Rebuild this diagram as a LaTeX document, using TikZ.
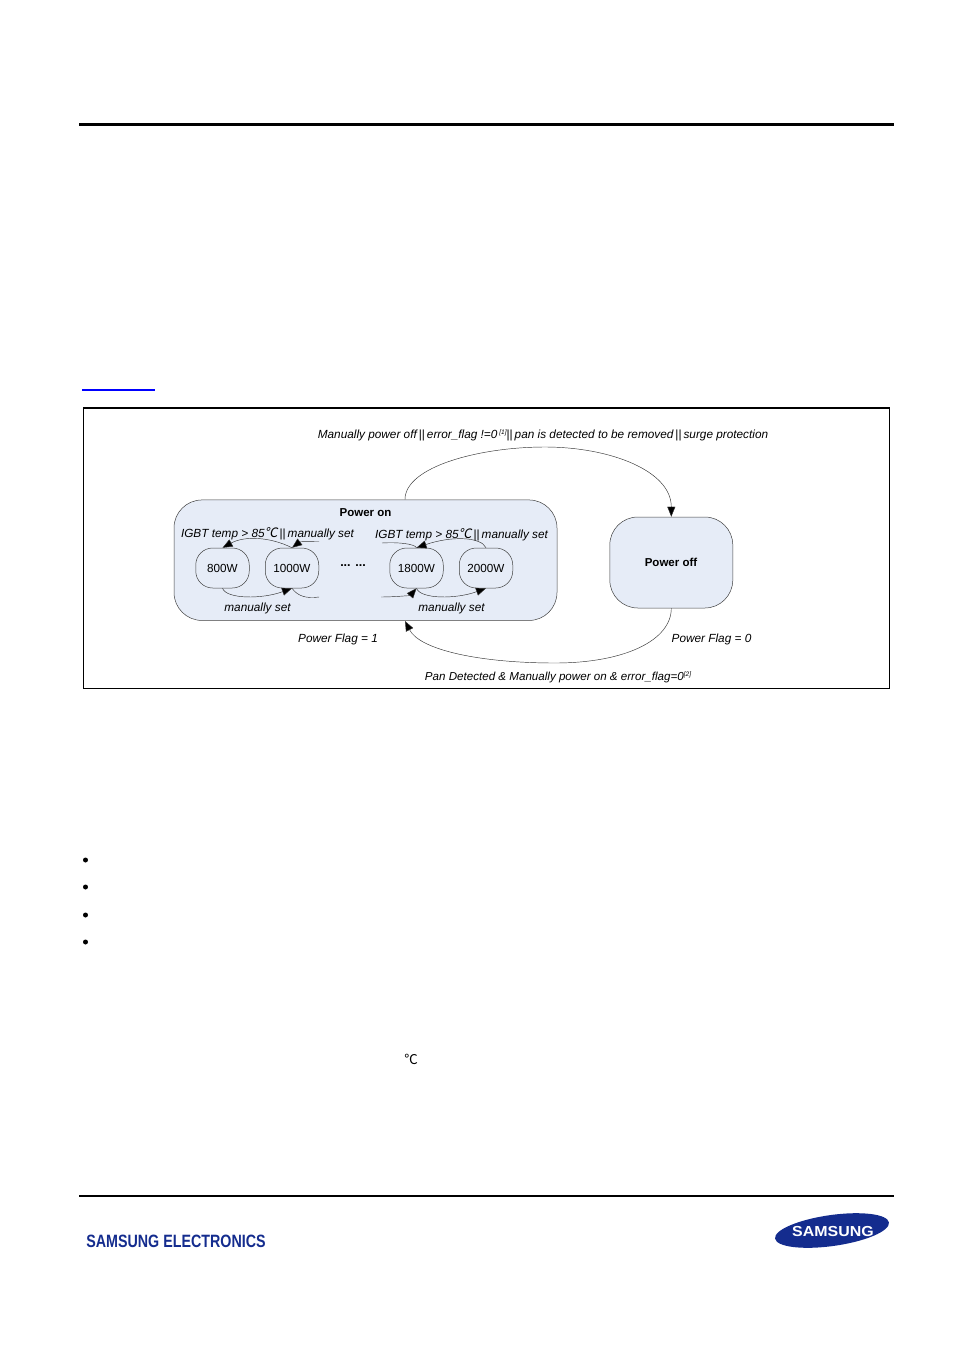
\documentclass[tikz,border=0pt]{standalone}
\usepackage{fontspec}
\usepackage{graphicx}
\setmainfont{Liberation Sans}
\newfontfamily\cjk[FakeSlant=0.2]{Noto Sans CJK SC}
\newfontfamily\cjkup{Noto Sans CJK SC}
\usetikzlibrary{arrows.meta}
\usetikzlibrary{shapes.geometric}
\definecolor{panelblue}{HTML}{E6ECF7}
\definecolor{samsungblue}{HTML}{142C8E}
\definecolor{linkblue}{HTML}{0000FF}
\newcommand{\degc}{{\fontsize{13}{13}\selectfont\cjk\char"2103}}
\newcommand{\refmark}[1]{\raisebox{4pt}{\fontsize{6.5}{7}\selectfont[#1]}}
\tikzset{
  panel/.style={draw=black!75,line width=0.5pt,fill=panelblue,rounded corners=28pt,inner sep=0pt},
  power/.style={draw=black!75,line width=0.5pt,fill=panelblue,rounded corners=17pt,inner sep=0pt,
    minimum width=53.5pt,minimum height=40pt,font=\fontsize{11.7}{13}\selectfont},
  flow/.style={draw=black!80,line width=0.45pt},
  flowtip/.style={flow,-{Triangle[length=10pt,width=8pt,fill=black]}},
  lbl/.style={inner sep=0pt,font=\fontsize{11.8}{13}\selectfont\itshape},
  head/.style={inner sep=0pt,font=\fontsize{11.5}{13}\selectfont\bfseries},
  bullet/.style={circle,fill=black,inner sep=0pt,minimum size=5pt}
}
\begin{document}
\begin{tikzpicture}[x=1pt,y=-1pt]
  \useasboundingbox (0,0) rectangle (954,1350);
  % page rules
  \coordinate (ruleTopL) at (79,124.5);
  \coordinate (ruleTopR) at (894,124.5);
  \coordinate (ruleBotL) at (79,1196);
  \coordinate (ruleBotR) at (894,1196);
  \draw[line width=3pt] (ruleTopL) -- (ruleTopR);
  \draw[line width=2pt] (ruleBotL) -- (ruleBotR);
  \fill[linkblue] (82,388.6) rectangle (155,390.6);
  \draw[line width=1.2pt] (83.5,408) rectangle (889.5,688.5);
  % states
  \node[panel,minimum width=383pt,minimum height=120.5pt] (powerOn) at (365.5,560.2) {};
  \node[panel,minimum width=123pt,minimum height=91pt] (powerOff) at (671.3,562.5) {};
  \node[head] (onTitle) at (365.5,513) {Power on};
  \node[head] (offTitle) at (671,562) {Power off};
  \node[power] (kwA) at (222.5,568) {800W};
  \node[power] (kwB) at (292,568) {1000W};
  \node[power] (kwC) at (416.5,568) {1800W};
  \node[power] (kwD) at (486,568) {2000W};
  \node[inner sep=0pt,font=\fontsize{12.5}{13}\selectfont] (dots) at (353,566) {\textbf{... ...}};
  % loose ends
  \coordinate (inB) at (319,541.5);
  \coordinate (inC) at (382,543);
  \coordinate (outB) at (319,597);
  \coordinate (outC) at (381,597);
  \coordinate (onTop) at (405,499.5);
  \coordinate (onBot) at (405,621);
  % transitions
  \draw[flowtip] (kwB.north) .. controls +(-22,-11) and +(22,-12) .. (kwA.north);
  \draw[flowtip] (inB) .. controls +(-12,0) and +(8,-6) .. (kwB.north);
  \draw[flowtip] (kwD.north) .. controls +(-5,-11) and +(35,-12) .. (kwC.north);
  \draw[flow] (inC) .. controls +(16,-1) and +(-2,-4) .. (kwC.north);
  \draw[flowtip] (kwA.south) .. controls +(4,11) and +(-30,11) .. (kwB.south);
  \draw[flow] (kwB.south) .. controls +(5,7) and +(-14,2) .. (outB);
  \draw[flowtip] (outC) .. controls +(14,0) and +(-6,7) .. (kwC.south);
  \draw[flowtip] (kwC.south) .. controls +(4,11) and +(-30,11) .. (kwD.south);
  \draw[flowtip] (onTop) .. controls +(0,-33) and +(-65,0) .. (545,447) .. controls +(65,0) and +(0,-46) .. (powerOff.north);
  \draw[flowtip] (powerOff.south) .. controls +(0,32) and +(70,0) .. (555,663) .. controls +(-75,0) and +(15,29) .. (onBot);
  % labels
  \node[lbl] (topText) at (543,435.2) {Manually power off\,{\upshape||}\,error\_flag !=0\,\refmark{1}{\upshape||}\,pan is detected to be removed\,{\upshape||}\,surge protection};
  \node[lbl] (tempA) at (267.5,533.5) {IGBT temp > 85\degc\,{\upshape||}\,manually set};
  \node[lbl] (tempB) at (461.5,534.5) {IGBT temp > 85\degc\,{\upshape||}\,manually set};
  \node[lbl] (setA) at (257.5,608.5) {manually set};
  \node[lbl] (setB) at (451.5,608.5) {manually set};
  \node[lbl] (flagOne) at (338,639.5) {Power Flag = 1};
  \node[lbl] (flagZero) at (711.5,639.5) {Power Flag = 0};
  \node[lbl,font=\fontsize{11.6}{13}\selectfont\itshape] (botText) at (558,677.5) {Pan Detected \& Manually power on \& error\_flag=0\refmark{2}};
  % body remains
  \foreach \i/\y in {a/860,b/887,c/915,d/942}
    \node[bullet] (dot\i) at (85.5,\y) {};
  \node[inner sep=0pt,font=\fontsize{13.5}{14}\selectfont\cjkup] (unit) at (411,1059.5) {\char"2103};
  % footer
  \node[inner sep=0pt,text=samsungblue,font=\fontsize{17}{19}\selectfont\bfseries,xscale=0.84,yscale=1.05] (company) at (176,1241) {SAMSUNG ELECTRONICS};
  \node[ellipse,fill=samsungblue,minimum width=115pt,minimum height=31pt,inner sep=0pt,rotate=8] (logo) at (832,1230.5) {};
  \node[inner sep=0pt,text=white,font=\fontsize{14.5}{16}\selectfont\bfseries,xscale=1.1] (logoText) at (833,1231.5) {SAMSUNG};
\end{tikzpicture}
\end{document}
